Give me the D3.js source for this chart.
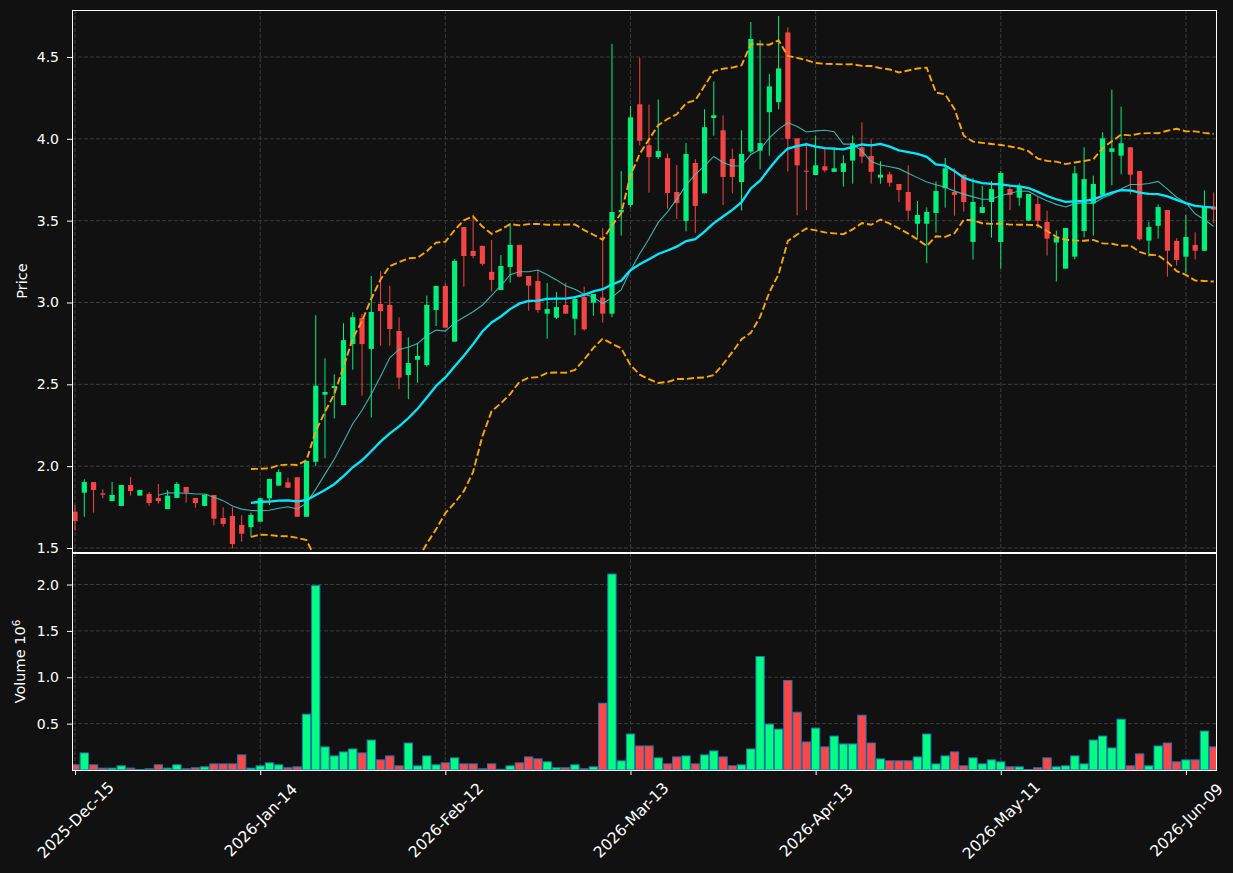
<!DOCTYPE html>
<html>
<head>
<meta charset="utf-8">
<script src="https://cdn.jsdelivr.net/npm/d3@7"></script>
<style>
  body { margin: 0; background: #111111; }
  text { font-family: "DejaVu Sans", sans-serif; }
</style>
</head>
<body>
<div id="chart"></div>
<script>

// daily bars, index 0 = 2025-12-15 (trading days only)
var opens = [1.722,1.838,1.903,1.834,1.787,1.757,1.885,1.820,1.830,1.806,
  1.738,1.806,1.873,1.806,1.757,1.824,1.683,1.696,1.641,1.628,
  1.661,1.804,1.881,1.901,1.932,1.691,2.027,2.437,2.478,2.373,
  2.746,2.905,2.716,2.991,2.985,2.826,2.557,2.650,2.618,2.954,
  3.101,2.761,3.461,3.315,3.346,3.187,3.076,3.217,3.352,3.162,
  3.131,2.932,2.907,2.985,2.901,3.034,2.999,3.030,2.932,3.551,
  3.596,4.211,3.961,3.888,3.882,3.675,3.498,3.852,3.667,4.127,
  4.052,3.877,3.736,3.922,3.928,4.163,4.224,4.650,4.003,3.805,
  3.779,3.832,3.798,3.798,3.867,3.948,3.895,3.763,3.783,3.724,
  3.675,3.481,3.481,3.547,3.698,3.675,3.781,3.370,3.547,3.614,
  3.370,3.693,3.640,3.500,3.602,3.492,3.366,3.207,3.280,3.437,
  3.606,3.657,3.920,3.897,3.948,3.803,3.378,3.469,3.565,3.376,
  3.280,3.352,3.316,3.586];
var highs = [1.763,1.920,1.903,1.859,1.903,1.885,1.934,1.854,1.842,1.891,
  1.854,1.903,1.873,1.806,1.826,1.824,1.749,1.749,1.700,1.716,
  1.804,1.922,1.981,1.930,1.932,2.032,2.922,2.659,2.561,2.873,
  2.940,2.930,3.162,3.191,3.101,2.910,2.787,2.751,3.042,3.101,
  3.117,3.264,3.461,3.534,3.346,3.383,3.290,3.484,3.352,3.162,
  3.199,3.119,3.064,3.121,3.036,3.097,3.052,3.455,4.580,3.803,
  4.200,4.496,4.209,4.240,3.910,3.840,3.974,3.876,4.180,4.350,
  4.143,3.940,4.052,4.713,4.601,4.397,4.750,4.680,4.003,3.973,
  4.020,3.948,3.948,3.899,4.020,4.101,3.996,3.863,3.799,3.724,
  3.838,3.620,3.581,3.740,3.883,3.820,3.781,3.760,3.712,3.742,
  3.803,3.708,3.728,3.663,3.643,3.561,3.439,3.455,3.834,3.948,
  3.775,4.040,4.300,4.196,3.948,3.803,3.494,3.600,3.565,3.392,
  3.535,3.429,3.685,3.673];
var lows = [1.606,1.691,1.716,1.804,1.787,1.757,1.820,1.820,1.758,1.771,
  1.738,1.806,1.777,1.746,1.757,1.639,1.630,1.498,1.539,1.569,
  1.661,1.763,1.881,1.868,1.691,1.691,2.001,2.048,2.292,2.373,
  2.589,2.431,2.298,2.736,2.736,2.470,2.409,2.510,2.608,2.856,
  2.846,2.761,3.097,3.270,3.225,3.066,3.076,3.121,3.158,2.950,
  2.938,2.779,2.899,2.932,2.800,2.828,2.919,2.877,2.910,3.408,
  3.580,3.960,3.671,3.877,3.574,3.511,3.435,3.425,3.667,4.019,
  3.595,3.667,3.562,3.912,3.813,3.897,4.180,3.800,3.533,3.565,
  3.779,3.795,3.798,3.708,3.726,3.851,3.726,3.726,3.708,3.614,
  3.506,3.396,3.240,3.427,3.579,3.530,3.555,3.262,3.547,3.396,
  3.207,3.565,3.591,3.500,3.453,3.286,3.129,3.207,3.264,3.398,
  3.408,3.657,3.716,3.783,3.659,3.378,3.282,3.390,3.158,3.227,
  3.178,3.262,3.316,3.484];
var closes = [1.665,1.903,1.854,1.826,1.824,1.885,1.848,1.854,1.775,1.787,
  1.820,1.891,1.840,1.775,1.826,1.679,1.647,1.524,1.587,1.702,
  1.804,1.922,1.964,1.868,1.691,2.032,2.492,2.453,2.490,2.770,
  2.910,2.746,2.942,2.948,2.838,2.541,2.630,2.673,2.985,3.101,
  2.846,3.254,3.284,3.284,3.236,3.138,3.223,3.352,3.158,3.103,
  2.954,2.960,2.972,2.932,3.021,2.836,3.052,2.932,3.553,3.565,
  4.131,3.988,3.888,3.925,3.669,3.608,3.907,3.590,4.071,4.144,
  3.767,3.767,3.907,4.610,3.974,4.320,4.430,4.000,3.838,3.800,
  3.838,3.807,3.820,3.851,3.973,3.891,3.798,3.781,3.732,3.687,
  3.561,3.535,3.553,3.681,3.820,3.657,3.614,3.614,3.583,3.693,
  3.791,3.657,3.705,3.663,3.500,3.390,3.398,3.455,3.789,3.754,
  3.724,4.003,3.942,3.973,3.781,3.386,3.461,3.583,3.316,3.260,
  3.400,3.316,3.583,3.567];
// volume in millions
var volumes = [0.056,0.184,0.056,0.020,0.020,0.045,0.020,0.006,0.013,0.056,
  0.020,0.056,0.013,0.024,0.034,0.066,0.066,0.066,0.163,0.020,
  0.045,0.077,0.056,0.024,0.034,0.602,1.988,0.249,0.152,0.195,
  0.227,0.184,0.323,0.109,0.152,0.045,0.291,0.045,0.152,0.056,
  0.077,0.131,0.066,0.066,0.013,0.066,0.008,0.045,0.077,0.141,
  0.120,0.088,0.024,0.024,0.056,0.013,0.034,0.720,2.113,0.099,
  0.388,0.259,0.259,0.131,0.066,0.141,0.152,0.066,0.163,0.206,
  0.141,0.045,0.056,0.227,1.224,0.495,0.441,0.966,0.623,0.302,
  0.452,0.249,0.366,0.281,0.281,0.591,0.291,0.120,0.099,0.099,
  0.099,0.141,0.388,0.066,0.152,0.195,0.045,0.131,0.066,0.109,
  0.088,0.034,0.034,0.005,0.024,0.131,0.034,0.045,0.152,0.066,
  0.323,0.366,0.238,0.548,0.045,0.174,0.045,0.259,0.291,0.088,
  0.109,0.109,0.420,0.249];

var tickIdx = [0, 20, 40, 60, 80, 100, 120];
var tickLabels = ["2025-Dec-15", "2026-Jan-14", "2026-Feb-12", "2026-Mar-13",
                  "2026-Apr-13", "2026-May-11", "2026-Jun-09"];
var priceTicks = [1.5, 2.0, 2.5, 3.0, 3.5, 4.0, 4.5];
var volTicks = [0.5, 1.0, 1.5, 2.0];

var W = 1233, H = 873;
var left = 72, right = 1216;
var mainTop = 10, mainBot = 552, volTop = 553, volBot = 770;

var upCol = "#00f07c", downCol = "#f54444";
var upVol = "#00ff80", downVol = "#ff4646";

var svg = d3.select("#chart").append("svg")
  .attr("width", W).attr("height", H)
  .style("background", "#111111");

var x = d3.scaleLinear().domain([-0.33, 123.25]).range([left, right]);
var y = d3.scaleLinear().domain([1.4756, 4.787]).range([mainBot, mainTop]);
var yv = d3.scaleLinear().domain([0, 2.34]).range([volBot, volTop]);
var step = x(1) - x(0);

var defs = svg.append("defs");
defs.append("clipPath").attr("id", "clipMain").append("rect")
  .attr("x", left).attr("y", mainTop).attr("width", right - left).attr("height", mainBot - mainTop);
defs.append("clipPath").attr("id", "clipVol").append("rect")
  .attr("x", left).attr("y", volTop).attr("width", right - left).attr("height", volBot - volTop);

// grids
function grid(top, bot, yTicks, ys) {
  var g = svg.append("g").attr("stroke", "#3c3c3c").attr("stroke-width", 1)
    .attr("stroke-dasharray", "4,2");
  g.selectAll(".v").data(tickIdx).enter().append("line")
    .attr("x1", function(d) { return x(d); }).attr("x2", function(d) { return x(d); })
    .attr("y1", top).attr("y2", bot);
  g.selectAll(".h").data(yTicks).enter().append("line")
    .attr("x1", left).attr("x2", right)
    .attr("y1", function(d) { return ys(d); }).attr("y2", function(d) { return ys(d); });
}
grid(mainTop, mainBot, priceTicks, y);
grid(volTop, volBot, volTicks, yv);

// indicators: SMA10, SMA20, Bollinger(20, 2)
function sma(arr, n) {
  return arr.map(function(d, i) { return i < n - 1 ? null : d3.mean(arr.slice(i - n + 1, i + 1)); });
}
function sdev(arr, n) {
  return arr.map(function(d, i) {
    if (i < n - 1) return null;
    var w = arr.slice(i - n + 1, i + 1), m = d3.mean(w);
    return Math.sqrt(d3.mean(w, function(v) { return (v - m) * (v - m); }));
  });
}
var ma10 = sma(closes, 10);
var ma20 = sma(closes, 20);
var sd20 = sdev(closes, 20);
var bbUp = ma20.map(function(m, i) { return m == null ? null : m + 2 * sd20[i]; });
var bbLo = ma20.map(function(m, i) { return m == null ? null : m - 2 * sd20[i]; });

var line = d3.line()
  .defined(function(d) { return d != null; })
  .x(function(d, i) { return x(i); })
  .y(function(d) { return y(d); });

var main = svg.append("g").attr("clip-path", "url(#clipMain)");

// candles
var idx = d3.range(closes.length);
var c = main.selectAll(".candle").data(idx).enter().append("g");
c.append("line")
  .attr("x1", function(i) { return x(i); }).attr("x2", function(i) { return x(i); })
  .attr("y1", function(i) { return y(highs[i]); }).attr("y2", function(i) { return y(lows[i]); })
  .attr("stroke", function(i) { return closes[i] >= opens[i] ? upCol : downCol; })
  .attr("stroke-width", 1);
c.append("rect")
  .attr("x", function(i) { return x(i) - step * 0.28; })
  .attr("width", step * 0.56)
  .attr("y", function(i) { return y(Math.max(opens[i], closes[i])); })
  .attr("height", function(i) { return Math.max(1, Math.abs(y(opens[i]) - y(closes[i]))); })
  .attr("fill", function(i) { return closes[i] >= opens[i] ? upCol : downCol; });

main.append("path").datum(bbUp).attr("d", line).attr("fill", "none")
  .attr("stroke", "#ffa500").attr("stroke-width", 1.9).attr("stroke-dasharray", "7,3");
main.append("path").datum(bbLo).attr("d", line).attr("fill", "none")
  .attr("stroke", "#ffa500").attr("stroke-width", 1.9).attr("stroke-dasharray", "7,3");
main.append("path").datum(ma10).attr("d", line).attr("fill", "none")
  .attr("stroke", "#40d0c8").attr("stroke-opacity", 0.85).attr("stroke-width", 1.1);
main.append("path").datum(ma20).attr("d", line).attr("fill", "none")
  .attr("stroke", "#00eaff").attr("stroke-width", 2.3);

// volume bars
var vol = svg.append("g").attr("clip-path", "url(#clipVol)");
vol.selectAll("rect").data(idx).enter().append("rect")
  .attr("x", function(i) { return x(i) - step * 0.45; })
  .attr("width", step * 0.9)
  .attr("y", function(i) { return yv(volumes[i]); })
  .attr("height", function(i) { return yv(0) - yv(volumes[i]); })
  .attr("fill", function(i) { return closes[i] >= opens[i] ? upVol : downVol; })
  .attr("stroke", "#1f77b4").attr("stroke-width", 1);

// axes
function styleAxis(size) {
  return function(g) {
    g.select(".domain").remove();
    g.selectAll(".tick line").attr("stroke", "white");
    g.selectAll(".tick text").attr("fill", "white").style("font-size", size)
      .style("font-family", "DejaVu Sans, sans-serif");
  };
}
svg.append("g").attr("transform", "translate(" + left + ",0)")
  .call(d3.axisLeft(y).tickValues(priceTicks).tickFormat(d3.format(".1f")).tickSize(5).tickPadding(8))
  .call(styleAxis("14px"));
svg.append("g").attr("transform", "translate(" + left + ",0)")
  .call(d3.axisLeft(yv).tickValues(volTicks).tickFormat(d3.format(".1f")).tickSize(5).tickPadding(8))
  .call(styleAxis("14px"));
var xa = svg.append("g").attr("transform", "translate(0," + volBot + ")")
  .call(d3.axisBottom(x).tickValues(tickIdx).tickFormat(function(d, i) { return tickLabels[i]; }).tickSize(5))
  .call(styleAxis("15.5px"));
xa.selectAll(".tick text")
  .attr("x", 0).attr("y", 0).attr("dy", "0.35em")
  .attr("text-anchor", "middle")
  .attr("transform", "translate(0,50) rotate(-45)");

// spines
[[mainTop, mainBot], [volTop, volBot]].forEach(function(p) {
  svg.append("rect").attr("x", left + 0.5).attr("y", p[0] + 0.5)
    .attr("width", right - left).attr("height", p[1] - p[0])
    .attr("fill", "none").attr("stroke", "white").attr("stroke-width", 1);
});

// axis labels
svg.append("text").attr("transform", "translate(27," + ((mainTop + mainBot) / 2) + ") rotate(-90)")
  .attr("text-anchor", "middle").attr("fill", "white").style("font-size", "14.5px").text("Price");
var vl = svg.append("text").attr("transform", "translate(25," + ((volTop + volBot) / 2) + ") rotate(-90)")
  .attr("text-anchor", "middle").attr("fill", "white").style("font-size", "14.5px");
vl.append("tspan").text("Volume  10");
vl.append("tspan").attr("dy", "-0.45em").style("font-size", "10.5px").text("6");

</script>
</body>
</html>
